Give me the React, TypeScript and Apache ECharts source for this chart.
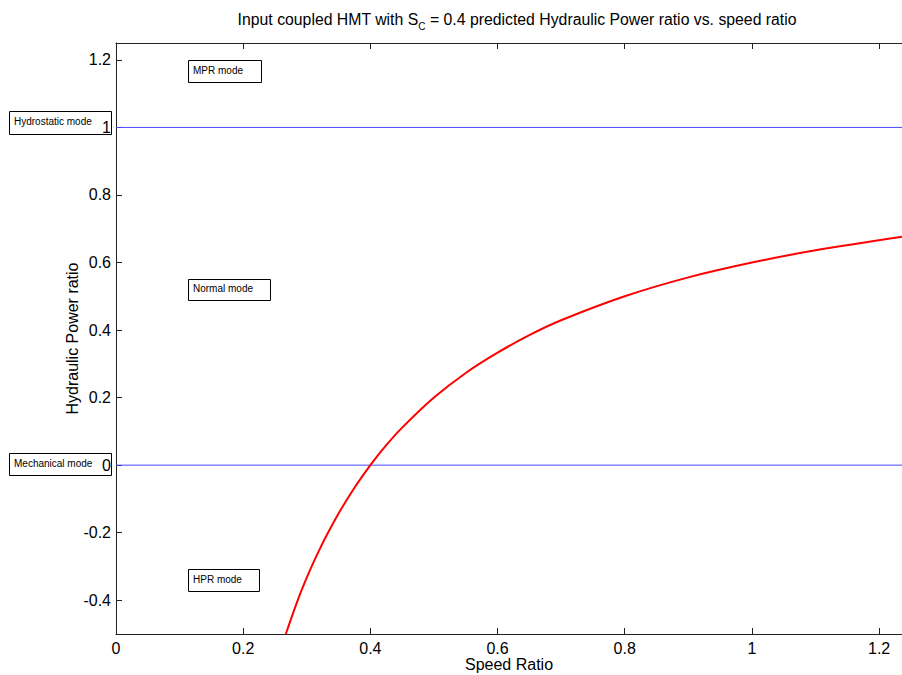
import React, { useEffect, useRef } from "react";
import * as echarts from "echarts";

const speedRatio = [0.267, 0.28, 0.29, 0.3, 0.31, 0.32, 0.33, 0.35, 0.375, 0.4, 0.425, 0.45, 0.5, 0.55, 0.6, 0.65, 0.7, 0.8, 0.9, 1.0, 1.1, 1.236];
const hydraulicPower = [-0.5, -0.43, -0.379, -0.333, -0.29, -0.25, -0.212, -0.143, -0.067, 0, 0.059, 0.111, 0.2, 0.273, 0.333, 0.385, 0.429, 0.5, 0.556, 0.6, 0.636, 0.676];
const modeLevels = [1, 0];
const xTicks = [0, 0.2, 0.4, 0.6, 0.8, 1, 1.2];
const yTicks = [-0.4, -0.2, 0, 0.2, 0.4, 0.6, 0.8, 1, 1.2];
const xMax = 1.236;
const boxes = [
  { text: "Hydrostatic mode", x: 9, y: 111, w: 102, h: 23 },
  { text: "MPR mode", x: 188, y: 60, w: 73, h: 22 },
  { text: "Normal mode", x: 188, y: 279, w: 82, h: 21 },
  { text: "Mechanical mode", x: 9, y: 453, w: 102, h: 22 },
  { text: "HPR mode", x: 188, y: 569, w: 71, h: 22 },
];

export default function App() {
  const ref = useRef<HTMLDivElement>(null);
  useEffect(() => {
    const chart = echarts.init(ref.current!, null, { renderer: "svg" });
    const font = "Liberation Sans, Arial, sans-serif";
    const curve = speedRatio.map((x, i) => [x, hydraulicPower[i]]);
    chart.setOption({
      animation: false,
      backgroundColor: "#fff",
      textStyle: { fontFamily: font },
      title: {
        text: "{a|Input coupled HMT with S}{s|C}{a| = 0.4 predicted Hydraulic Power ratio vs. speed ratio}",
        left: 512,
        top: 6,
        textAlign: "center",
        textStyle: {
          fontWeight: "normal",
          rich: {
            a: { fontSize: 15.8, fontFamily: font, fontWeight: "normal", color: "#000", verticalAlign: "top" },
            s: { fontSize: 10, fontFamily: font, fontWeight: "normal", color: "#000", padding: [10, 0, 0, 0], verticalAlign: "top" },
          },
        },
      },
      grid: { left: 116, top: 43, right: 0, bottom: 41, outerBoundsMode: "none", containLabel: false },
      xAxis: [
        {
          type: "value",
          min: 0,
          max: xMax,
          name: "Speed Ratio",
          nameLocation: "middle",
          nameGap: 22,
          nameMoveOverlap: false,
          nameTextStyle: { fontSize: 16, color: "#000", fontFamily: font },
          axisLine: { onZero: false, lineStyle: { color: "#222", width: 1 } },
          axisTick: { inside: true, length: 6, customValues: xTicks, lineStyle: { color: "#222" } },
          axisLabel: { customValues: xTicks, fontSize: 16, color: "#000", margin: 6, showMaxLabel: true, formatter: (v: number) => String(+v.toFixed(2)) },
          splitLine: { show: false },
        },
        {
          type: "value",
          position: "top",
          min: 0,
          max: xMax,
          axisLine: { onZero: false, lineStyle: { color: "#222", width: 1 } },
          axisTick: { inside: true, length: 6, customValues: xTicks, lineStyle: { color: "#222" } },
          axisLabel: { show: false },
          splitLine: { show: false },
        },
      ],
      yAxis: {
        type: "value",
        min: -0.5,
        max: 1.25,
        name: "Hydraulic Power ratio",
        nameLocation: "middle",
        nameGap: 36,
        nameMoveOverlap: false,
        nameTextStyle: { fontSize: 16, color: "#000", fontFamily: font },
        axisLine: { show: true, onZero: false, lineStyle: { color: "#222", width: 1 } },
        axisTick: { show: true, inside: true, length: 6, customValues: yTicks, lineStyle: { color: "#222" } },
        axisLabel: { customValues: yTicks, fontSize: 16, color: "#000", margin: 5, formatter: (v: number) => String(+v.toFixed(2)) },
        splitLine: { show: false },
      },
      series: [
        ...modeLevels.map((lv) => ({
          type: "line",
          data: [[0, lv], [xMax, lv]],
          symbol: "none",
          lineStyle: { color: "#4a4aff", width: 1 },
          silent: true,
        })),
        {
          type: "line",
          data: curve,
          smooth: 0.3,
          symbol: "none",
          clip: true,
          lineStyle: { color: "#ff0000", width: 2 },
        },
      ],
      graphic: boxes.map((b) => ({
        type: "group",
        x: b.x,
        y: b.y,
        z: 100,
        children: [
          { type: "rect", shape: { x: 0.5, y: 0.5, width: b.w, height: b.h }, style: { fill: "#fff", stroke: "#000", lineWidth: 1 } },
          { type: "text", x: 5, y: b.h / 2 - 1, style: { text: b.text, fontSize: 10, fontFamily: font, fill: "#000", verticalAlign: "middle" } },
        ],
      })),
    });
    return () => chart.dispose();
  }, []);
  return <div ref={ref} style={{ position: "fixed", left: 0, top: 0, width: 902, height: 675 }} />;
}
